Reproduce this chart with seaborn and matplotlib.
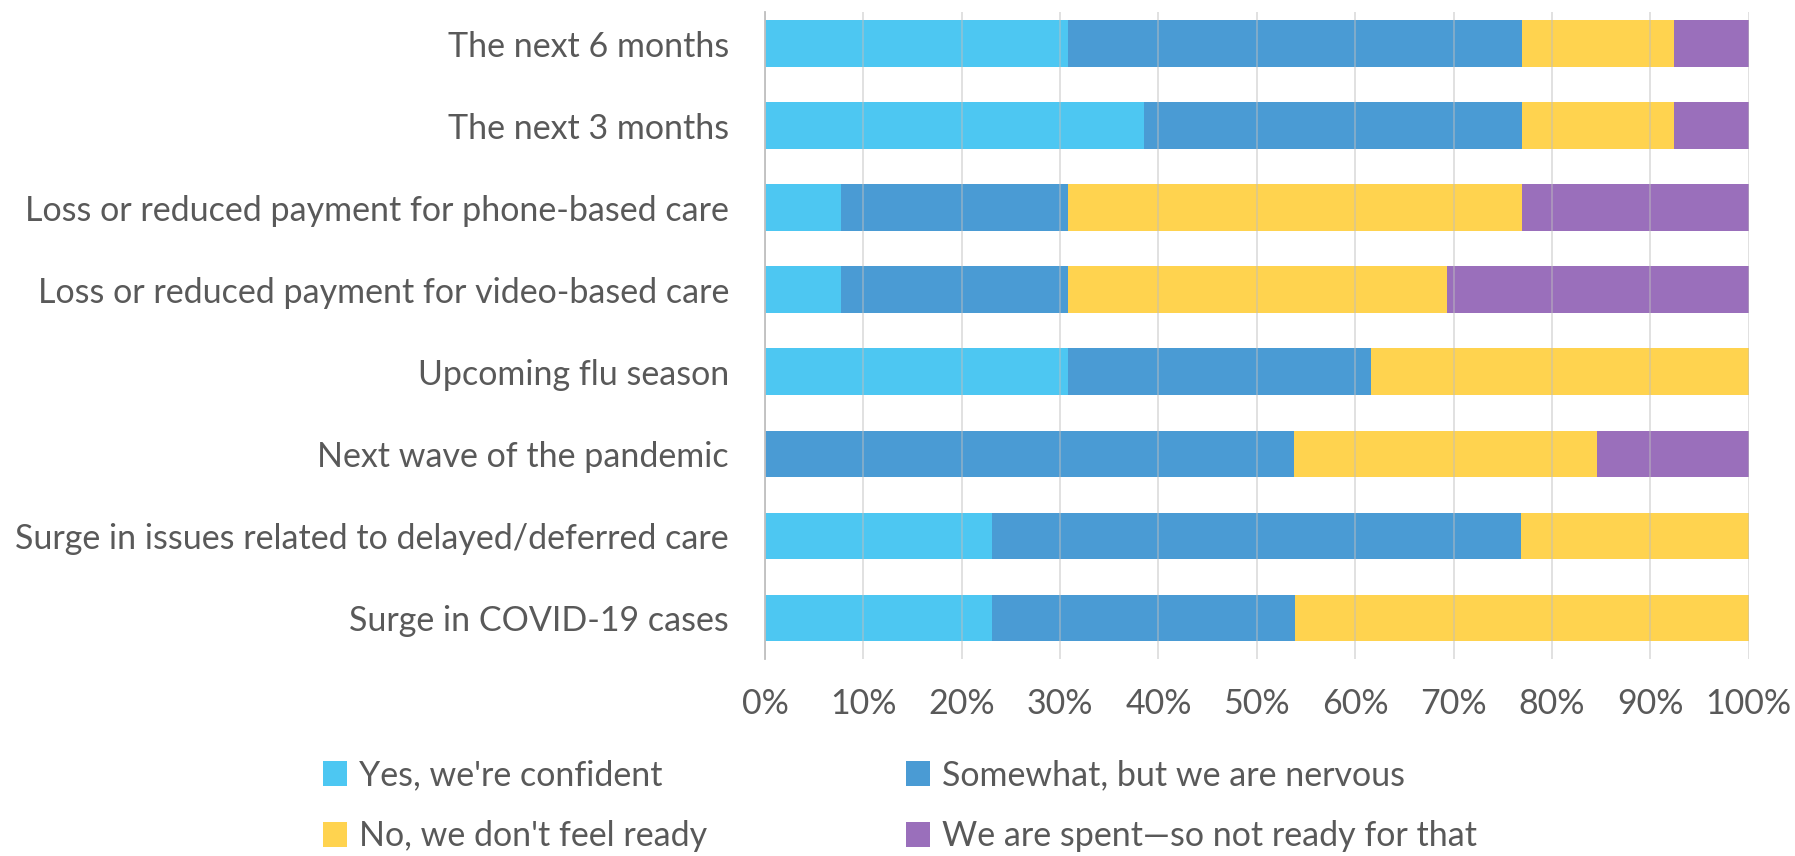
import matplotlib
matplotlib.use("Agg")
import matplotlib.pyplot as plt
import seaborn as sns
import numpy as np
import pandas as pd
from matplotlib.patches import Patch

categories = [
    "The next 6 months",
    "The next 3 months",
    "Loss or reduced payment for phone-based care",
    "Loss or reduced payment for video-based care",
    "Upcoming flu season",
    "Next wave of the pandemic",
    "Surge in issues related to delayed/deferred care",
    "Surge in COVID-19 cases",
]
series_names = [
    "Yes, we're confident",
    "Somewhat, but we are nervous",
    "No, we don't feel ready",
    "We are spent\u2014so not ready for that",
]
yes_confident = [30.8, 38.5, 7.7, 7.7, 30.8, 0.0, 23.1, 23.1]
somewhat_nervous = [46.2, 38.5, 23.1, 23.1, 30.8, 53.8, 53.8, 30.8]
not_ready = [15.4, 15.4, 46.2, 38.5, 38.5, 30.8, 23.1, 46.2]
spent = [7.7, 7.7, 23.1, 30.8, 0.0, 15.4, 0.0, 0.0]
colors = ["#4DC7F2", "#4A9BD4", "#FFD34F", "#9A6FBB"]
xticks = [0, 10, 20, 30, 40, 50, 60, 70, 80, 90, 100]
xtick_labels = [f"{t}%" for t in xticks]

sns.set_theme(style="white")
plt.rcParams["font.family"] = ["Lato", "DejaVu Sans"]
text_color = "#595959"
fs = 24.5

fig = plt.figure(figsize=(17.95, 8.56), dpi=100)
ax = fig.add_axes([0.4262, 0.230, 0.548, 0.756])

values = np.array([yes_confident, somewhat_nervous, not_ready, spent])
cum = np.cumsum(values, axis=0)
# draw from the total down so each segment shows
for i in range(3, -1, -1):
    df = pd.DataFrame({"cat": categories, "val": np.minimum(cum[i], 100)})
    sns.barplot(data=df, y="cat", x="val", color=colors[i], orient="h",
                width=0.57, saturation=1, ax=ax, edgecolor="none", linewidth=0)

ax.set_xlim(0, 100)
ax.set_ylim(7.5, -0.385)
ax.set_xticks(xticks)
ax.set_xticklabels(xtick_labels)
ax.set_xlabel("")
ax.set_ylabel("")
ax.set_axisbelow(False)
ax.xaxis.grid(True, color="#BFBFBF", linewidth=1.2, alpha=0.55)
ax.yaxis.grid(False)
for s in ["top", "right", "bottom"]:
    ax.spines[s].set_visible(False)
ax.spines["left"].set_color("#BFBFBF")
ax.spines["left"].set_linewidth(1.3)
ax.tick_params(axis="x", length=0, pad=21, labelsize=fs, labelcolor=text_color)
ax.tick_params(axis="y", length=0, pad=26, labelsize=fs, labelcolor=text_color)

# order so that rows read: Yes | Somewhat, No | Spent
order = [0, 2, 1, 3]
handles = [Patch(facecolor=colors[k], edgecolor="none") for k in order]
labels = [series_names[k] for k in order]
leg = fig.legend(handles, labels, loc="lower left",
                 bbox_to_anchor=(0.163, -0.031), ncol=2, frameon=False,
                 fontsize=fs, labelcolor=text_color, handlelength=0.7,
                 handleheight=0.75, handletextpad=0.35, columnspacing=5.85,
                 labelspacing=0.85)

fig.savefig("out.png", dpi=100)
